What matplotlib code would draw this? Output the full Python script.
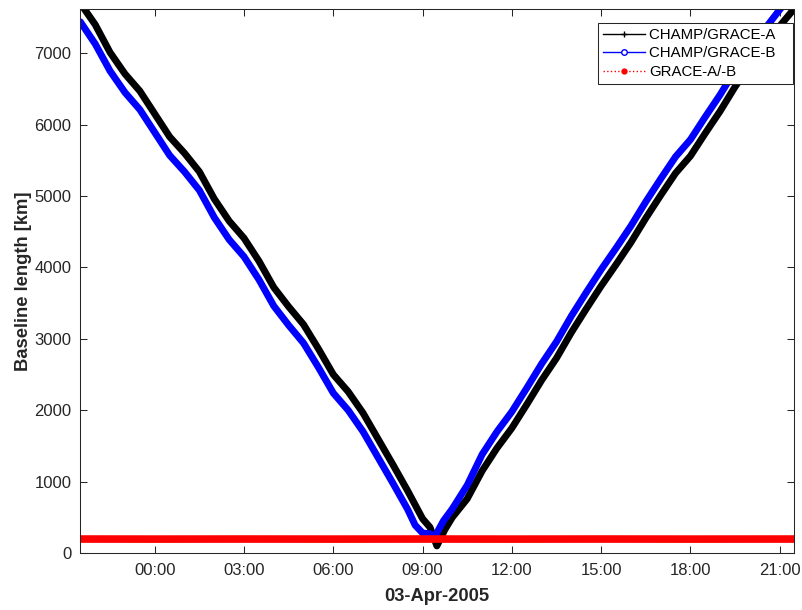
import matplotlib
matplotlib.use("Agg")
import matplotlib.pyplot as plt
import matplotlib.dates as mdates
from matplotlib.lines import Line2D
import pandas as pd

# hours relative to 03-Apr-2005 00:00, baseline length in km
t_champ_a = [-2.5, -2.0, -1.5, -1.0, -0.5, 0.0, 0.5, 1.0, 1.5, 2.0, 2.5, 3.0, 3.5,
             4.0, 4.5, 5.0, 5.5, 6.0, 6.5, 7.0, 7.5, 8.0, 8.5, 9.0, 9.25, 9.48,
             9.75, 10.0, 10.5, 11.0, 11.5, 12.0, 12.5, 13.0, 13.5, 14.0, 14.5, 15.0,
             15.5, 16.0, 16.5, 17.0, 17.5, 18.0, 18.5, 19.0, 19.5, 20.0, 20.5, 21.0, 21.5]
d_champ_a = [7700, 7400, 7010, 6710, 6470, 6150, 5830, 5600, 5340, 4960, 4650, 4410, 4090,
             3720, 3450, 3200, 2860, 2500, 2260, 1960, 1600, 1240, 870, 480, 360, 100,
             330, 500, 760, 1150, 1470, 1750, 2080, 2420, 2730, 3090, 3420, 3740,
             4040, 4350, 4690, 5010, 5320, 5560, 5880, 6190, 6530, 6830, 7110, 7380, 7630]

t_champ_b = [-2.5, -2.0, -1.5, -1.0, -0.5, 0.0, 0.5, 1.0, 1.5, 2.0, 2.5, 3.0, 3.5,
             4.0, 4.5, 5.0, 5.5, 6.0, 6.5, 7.0, 7.5, 8.0, 8.5, 8.75, 9.0, 9.25, 9.4,
             9.7, 10.0, 10.5, 11.0, 11.5, 12.0, 12.5, 13.0, 13.5, 14.0, 14.5, 15.0,
             15.5, 16.0, 16.5, 17.0, 17.5, 18.0, 18.5, 19.0, 19.5, 20.0, 20.5, 21.0, 21.5]
d_champ_b = [7440, 7130, 6750, 6450, 6210, 5890, 5570, 5340, 5080, 4700, 4390, 4150, 3830,
             3460, 3190, 2940, 2600, 2240, 2000, 1700, 1340, 980, 610, 390, 280, 270, 220,
             450, 620, 950, 1380, 1700, 1980, 2310, 2650, 2960, 3320, 3650, 3970,
             4270, 4580, 4920, 5240, 5550, 5790, 6110, 6420, 6760, 7060, 7340, 7610, 7860]

t_grace = [-2.51, 0.0, 3.0, 6.0, 9.0, 12.0, 15.0, 18.0, 21.58]
d_grace = [196, 195, 196, 195, 196, 195, 196, 195, 196]

day0 = pd.Timestamp("2005-04-03")
def to_time(hours):
    return day0 + pd.to_timedelta(hours, unit="h")

plt.rcParams["font.family"] = ["Liberation Sans", "DejaVu Sans"]
fig = plt.figure(figsize=(8.03, 6.10), dpi=100)
ax = fig.add_axes([0.0993, 0.0934, 0.8895, 0.8916])

ax.plot(to_time(t_champ_a), d_champ_a, color="black", lw=5.0, solid_joinstyle="round", solid_capstyle="round")
ax.plot(to_time(t_champ_b), d_champ_b, color="blue", lw=5.0, solid_joinstyle="round", solid_capstyle="round")
ax.plot(to_time(t_grace), d_grace, color="red", lw=5.5)

ax.set_xlim(to_time(-2.52), to_time(21.48))
ax.set_ylim(0, 7617)
ax.set_yticks(range(0, 8000, 1000))
ax.xaxis.set_major_locator(mdates.HourLocator(byhour=range(0, 24, 3)))
ax.xaxis.set_major_formatter(mdates.DateFormatter("%H:%M"))

gray = "#262626"
for s in ax.spines.values():
    s.set_color(gray)
    s.set_linewidth(0.75)
ax.tick_params(direction="in", top=True, right=True, length=5, width=0.75,
               colors=gray, labelsize=12)
ax.tick_params(axis="x", pad=7.5)
ax.tick_params(axis="y", pad=6)

ax.set_xlabel("03-Apr-2005", fontsize=13.2, fontweight="bold", color=gray, labelpad=7)
ax.set_ylabel("Baseline length [km]", fontsize=13.2, fontweight="bold", color=gray, labelpad=2)

handles = [
    Line2D([], [], color="black", lw=1, marker="+", markersize=5),
    Line2D([], [], color="blue", lw=1, marker="o", markersize=4, markerfacecolor="white"),
    Line2D([], [], color="red", lw=1, ls=":", marker=".", markersize=7),
]
labels = ["CHAMP/GRACE-A   ", "CHAMP/GRACE-B   ", "GRACE-A/-B"]
leg = ax.legend(handles, labels, loc="upper right", bbox_to_anchor=(0.999, 0.975),
                fontsize=10.8, fancybox=False, framealpha=1, edgecolor=gray,
                borderaxespad=0, handlelength=2.8, handletextpad=0.3,
                labelspacing=0.3, borderpad=0.35)
leg.get_frame().set_linewidth(0.75)

fig.savefig("out.png", dpi=100)
